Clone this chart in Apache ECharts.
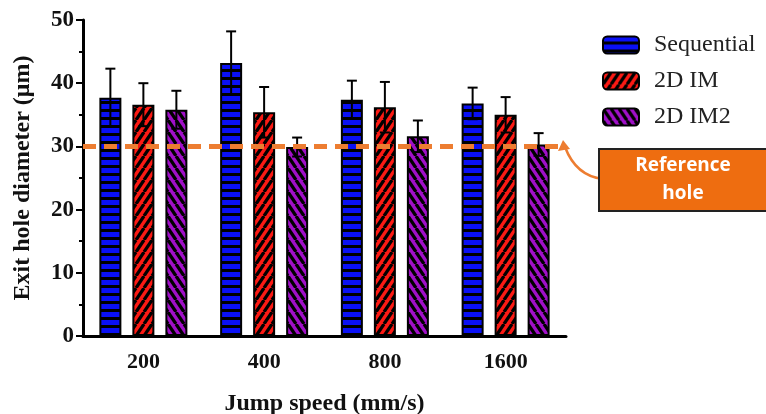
<!DOCTYPE html>
<html>
<head>
<meta charset="utf-8">
<script src="https://cdn.jsdelivr.net/npm/echarts@6/dist/echarts.min.js"></script>
<style>html,body{margin:0;padding:0;background:#fff}#c{width:766px;height:414px}</style>
</head>
<body>
<div id="c"></div>
<script>
var categories = ['200', '400', '800', '1600'];
var seriesNames = ['Sequential', '2D IM', '2D IM2'];
var sequentialMean = [37.7, 43.2, 37.4, 36.8];
var sequentialSD = [4.6, 5.0, 3.0, 2.5];
var im2dMean = [36.6, 35.4, 36.2, 35.0];
var im2dSD = [3.4, 4.0, 4.0, 2.8];
var im2d2Mean = [35.8, 29.9, 31.6, 30.3];
var im2d2SD = [3.0, 1.5, 2.5, 1.8];
var referenceHole = 30;
var yTicks = [0, 10, 20, 30, 40, 50];

var means = [sequentialMean, im2dMean, im2d2Mean];
var sds = [sequentialSD, im2dSD, im2d2SD];

function makePattern(kind, color) {
  var c = document.createElement('canvas');
  var ctx;
  if (kind === 'h') {
    c.width = 8; c.height = 8;
    ctx = c.getContext('2d');
    ctx.fillStyle = color; ctx.fillRect(0, 0, 8, 8);
    ctx.fillStyle = '#000'; ctx.fillRect(0, 5, 8, 3);
    return c;
  }
  var w = 8, h = 12;
  c.width = w; c.height = h;
  ctx = c.getContext('2d');
  ctx.fillStyle = color; ctx.fillRect(0, 0, w, h);
  ctx.strokeStyle = '#000'; ctx.lineWidth = 3.2;
  for (var k = -1; k <= 1; k++) {
    ctx.beginPath();
    if (kind === 'up') { ctx.moveTo(k * w, h); ctx.lineTo(k * w + w, 0); }
    else { ctx.moveTo(k * w, 0); ctx.lineTo(k * w + w, h); }
    ctx.stroke();
  }
  return c;
}
var fills = [
  {image: makePattern('h', '#0a10f5'), repeat: 'repeat'},
  {image: makePattern('up', '#fb1a14'), repeat: 'repeat'},
  {image: makePattern('down', '#a010c8'), repeat: 'repeat'}
];

var BAR_W = 22, BAR_GAP = 11;
var serif = 'Liberation Serif, Times New Roman, serif';

var series = [];
seriesNames.forEach(function (name, i) {
  var s = {
    name: name,
    type: 'bar',
    data: means[i],
    barWidth: BAR_W,
    barGap: (BAR_GAP / BAR_W * 100) + '%',
    itemStyle: {color: fills[i], borderColor: '#000', borderWidth: 2},
    emphasis: {disabled: true},
    z: 2
  };
  if (i === 0) {
    s.markLine = {
      silent: true,
      symbol: 'none',
      label: {show: false},
      lineStyle: {color: '#ed7d31', type: [13, 8], width: 5},
      data: [{yAxis: referenceHole}],
      z: 6
    };
  }
  series.push(s);
});
seriesNames.forEach(function (name, i) {
  var data = means[i].map(function (m, j) { return [j, m - sds[i][j], m + sds[i][j]]; });
  series.push({
    type: 'custom',
    name: name + ' err',
    data: data,
    encode: {x: 0, y: [1, 2]},
    z: 4,
    silent: true,
    renderItem: function (params, api) {
      var idx = api.value(0);
      var off = (i - 1) * (BAR_W + BAR_GAP);
      var lo = api.coord([idx, api.value(1)]);
      var hi = api.coord([idx, api.value(2)]);
      var x = lo[0] + off;
      var cw = 5;
      var st = {stroke: '#000', lineWidth: 2};
      return {
        type: 'group',
        children: [
          {type: 'line', shape: {x1: x, y1: lo[1], x2: x, y2: hi[1]}, style: st},
          {type: 'line', shape: {x1: x - cw, y1: hi[1], x2: x + cw, y2: hi[1]}, style: st},
          {type: 'line', shape: {x1: x - cw, y1: lo[1], x2: x + cw, y2: lo[1]}, style: st}
        ]
      };
    }
  });
});

var chart = echarts.init(document.getElementById('c'), null, {renderer: 'canvas'});
chart.setOption({
  animation: false,
  backgroundColor: '#fff',
  grid: {left: 83, top: 20, width: 483, height: 316, containLabel: false, outerBoundsMode: 'none'},
  legend: {
    data: seriesNames,
    orient: 'vertical',
    left: 597, top: 28,
    itemWidth: 36, itemHeight: 17, itemGap: 12,
    icon: 'roundRect',
    itemStyle: {borderColor: '#000', borderWidth: 2},
    textStyle: {fontFamily: serif, fontSize: 24, color: '#222', padding: [0, 0, 0, 10]},
    selectedMode: false
  },
  xAxis: {
    type: 'category',
    data: categories,
    name: 'Jump speed (mm/s)',
    nameLocation: 'middle',
    nameGap: 56,
    nameTextStyle: {fontFamily: serif, fontSize: 24, fontWeight: 'bold', color: '#111'},
    axisLine: {lineStyle: {color: '#000', width: 3}},
    axisTick: {alignWithLabel: true, length: 6, lineStyle: {color: '#000', width: 2}},
    axisLabel: {fontFamily: serif, fontSize: 22, fontWeight: 'bold', color: '#111', margin: 15},
    splitLine: {show: false}
  },
  yAxis: {
    type: 'value',
    min: yTicks[0], max: yTicks[yTicks.length - 1], interval: 10,
    name: 'Exit hole diameter (\u03bcm)',
    nameLocation: 'middle',
    nameGap: 48,
    nameTextStyle: {fontFamily: serif, fontSize: 24, fontWeight: 'bold', color: '#111'},
    axisLine: {show: true, lineStyle: {color: '#000', width: 3}},
    axisTick: {show: true, length: 7, lineStyle: {color: '#000', width: 2}},
    minorTick: {show: true, splitNumber: 2, length: 4, lineStyle: {color: '#000', width: 2}},
    axisLabel: {fontFamily: serif, fontSize: 23, fontWeight: 'bold', color: '#111', margin: 9},
    splitLine: {show: false}
  },
  graphic: [
    {
      type: 'bezierCurve',
      shape: {x1: 603, y1: 179, x2: 565, y2: 147, cpx1: 576, cpy1: 176},
      style: {stroke: '#ed7d31', lineWidth: 2.5, fill: null},
      z: 10
    },
    {
      type: 'polygon',
      shape: {points: [[563, 140], [558, 151], [570, 149]]},
      style: {fill: '#ed7d31'},
      z: 10
    },
    {
      type: 'rect',
      shape: {x: 599, y: 149, width: 172, height: 62},
      style: {fill: '#ee6d10', stroke: '#222', lineWidth: 2},
      z: 10
    },
    {
      type: 'text',
      x: 683, y: 180,
      style: {
        text: 'Reference\nhole',
        fill: '#fff',
        font: 'bold 19px "Open Sans", sans-serif',
        align: 'center', verticalAlign: 'middle', lineHeight: 28
      },
      z: 11
    }
  ],
  series: series
});
</script>
</body>
</html>
